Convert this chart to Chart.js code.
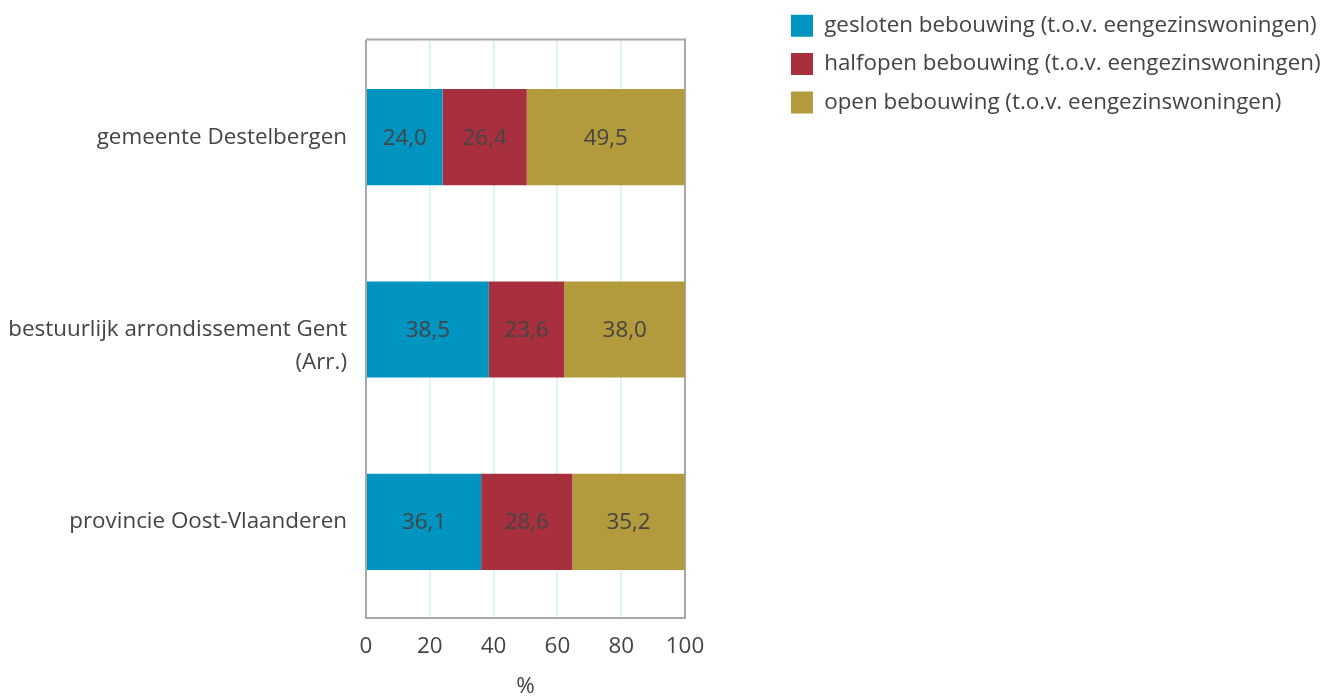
<!DOCTYPE html>
<html>
<head>
<meta charset="utf-8">
<script src="https://cdn.jsdelivr.net/npm/chart.js@4"></script>
<style>
  html, body { margin: 0; padding: 0; background: #fff; }
  #wrap { width: 1323px; height: 698px; }
</style>
</head>
<body>
<div id="wrap"><canvas id="chart"></canvas></div>
<script>
// data
const categories = ['gemeente Destelbergen', ['bestuurlijk arrondissement Gent', '(Arr.)'], 'provincie Oost-Vlaanderen'];
const seriesNames = [
  'gesloten bebouwing (t.o.v. eengezinswoningen)',
  'halfopen bebouwing (t.o.v. eengezinswoningen)',
  'open bebouwing (t.o.v. eengezinswoningen)'
];
const gesloten = [24.0, 38.5, 36.1];
const halfopen = [26.4, 23.6, 28.6];
const open = [49.5, 38.0, 35.2];
const xTicks = [0, 20, 40, 60, 80, 100];
const axisTitle = '%';

const colors = ['#0095c1', '#a8303e', '#b39a3c'];
const textColor = '#444';
const fontFamily = "'Open Sans', sans-serif";
const fontSize = 22.4;

Chart.defaults.font.family = fontFamily;
Chart.defaults.font.size = fontSize;
Chart.defaults.color = textColor;

// 1 decimal, comma as separator
function fmt(v) {
  return v.toFixed(1).replace('.', ',');
}

// values in the middle of each segment
const barValueLabels = {
  id: 'barValueLabels',
  afterDatasetsDraw(chart) {
    const ctx = chart.ctx;
    ctx.save();
    ctx.font = fontSize + 'px ' + fontFamily;
    ctx.fillStyle = textColor;
    ctx.textAlign = 'center';
    ctx.textBaseline = 'middle';
    chart.data.datasets.forEach((ds, i) => {
      chart.getDatasetMeta(i).data.forEach((bar, j) => {
        const p = bar.getCenterPoint();
        ctx.fillText(fmt(ds.data[j]), p.x, p.y + 1);
      });
    });
    ctx.restore();
  }
};

// top and right edge of the plot box
const plotFrame = {
  id: 'plotFrame',
  beforeDatasetsDraw(chart) {
    const { ctx, chartArea: a } = chart;
    ctx.save();
    ctx.strokeStyle = '#a8a8a8';
    ctx.lineWidth = 2;
    ctx.beginPath();
    ctx.moveTo(a.left, a.top - 1.5);
    ctx.lineTo(a.right, a.top - 1.5);
    ctx.lineTo(a.right, a.bottom);
    ctx.stroke();
    ctx.restore();
  }
};

// keep the legend in the top right corner, away from the plot
const legendPlace = {
  id: 'legendPlace',
  beforeLayout(chart) {
    const lg = chart.legend;
    if (lg && !lg._patched) {
      const fit = lg.fit;
      lg.fit = function () {
        fit.call(this);
        this.width = Math.max(this.width, 638);
      };
      lg._patched = true;
    }
  },
  afterLayout(chart) {
    const lg = chart.legend;
    const dx = 775 - lg.left;
    lg.left += dx;
    lg.right += dx;
    const dy = -1.5 - lg.top;
    lg.top += dy;
    lg.bottom += dy;
  }
};

new Chart(document.getElementById('chart'), {
  type: 'bar',
  data: {
    labels: categories,
    datasets: [
      { label: seriesNames[0], data: gesloten, backgroundColor: colors[0] },
      { label: seriesNames[1], data: halfopen, backgroundColor: colors[1] },
      { label: seriesNames[2], data: open, backgroundColor: colors[2] }
    ]
  },
  options: {
    indexAxis: 'y',
    responsive: true,
    maintainAspectRatio: false,
    animation: false,
    barPercentage: 0.5,
    categoryPercentage: 1,
    layout: { padding: { top: 41, right: 0, bottom: 0, left: 0 } },
    plugins: {
      legend: {
        position: 'right',
        align: 'start',
        labels: {
          boxWidth: 22,
          boxHeight: 22,
          padding: 16,
          textAlign: 'left',
          color: textColor,
          font: { size: fontSize }
        }
      },
      tooltip: { enabled: false }
    },
    scales: {
      x: {
        stacked: true,
        min: 0,
        max: 100,
        afterBuildTicks(scale) {
          scale.ticks = xTicks.map(v => ({ value: v }));
        },
        afterFit(scale) { scale.height = 80; },
        grid: { color: '#ddf2fa', lineWidth: 2, drawTicks: false },
        border: { display: true, color: '#a8a8a8', width: 2 },
        ticks: { padding: 15, color: textColor, font: { size: fontSize } },
        title: {
          display: true,
          text: axisTitle,
          color: textColor,
          font: { size: fontSize, lineHeight: 1 },
          padding: { top: 0, bottom: 0 }
        }
      },
      y: {
        stacked: true,
        afterFit(scale) { scale.width = 366; },
        grid: { display: false, drawTicks: false },
        border: { display: true, color: '#a8a8a8', width: 2 },
        ticks: {
          padding: 19,
          color: textColor,
          font: { size: fontSize, lineHeight: 1.47 },
          callback(value, index) {
            const lab = categories[index];
            // first line sits on the bar centre, like the original
            return Array.isArray(lab) ? [''].concat(lab) : lab;
          }
        }
      }
    }
  },
  plugins: [barValueLabels, plotFrame, legendPlace]
});
</script>
</body>
</html>
